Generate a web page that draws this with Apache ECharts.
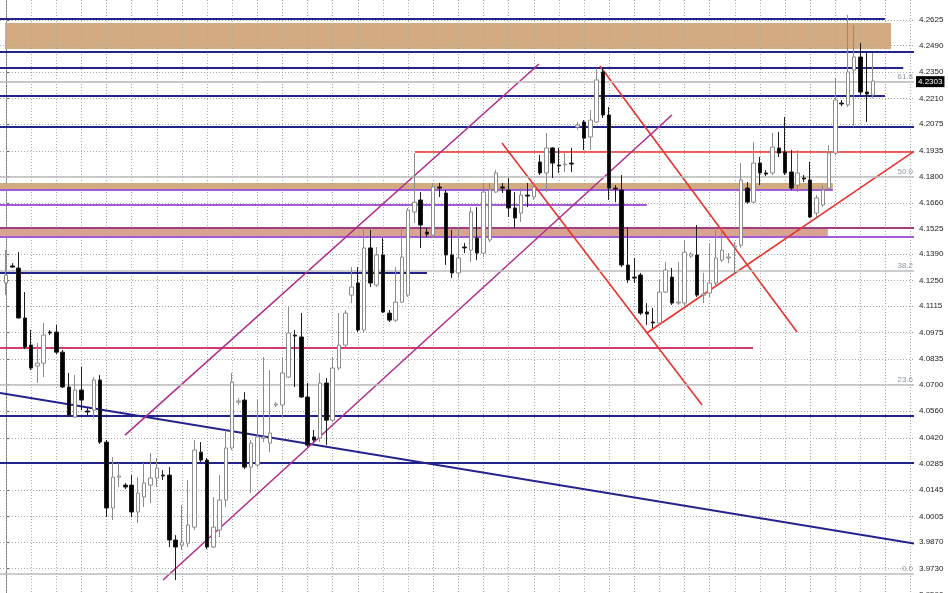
<!DOCTYPE html>
<html><head><meta charset="utf-8">
<script src="https://cdn.jsdelivr.net/npm/echarts@6/dist/echarts.min.js"></script>
<style>html,body{margin:0;padding:0;background:#fff}#c{width:948px;height:593px}</style>
</head><body><div id="c"></div>
<script>
// ---- candle data (index = bar number) ----
const opens = [4.1237,4.1327,4.1316,4.1052,4.0909,4.0799,4.0814,4.0978,4.0978,4.0872,
4.0688,4.0529,4.0672,4.0561,4.0566,4.0725,4.0397,4.0049,4.0212,4.0170,
4.0170,4.0028,4.0107,4.0170,4.0207,4.0223,4.0223,3.9880,3.9853,3.9864,
3.9948,4.0344,4.0302,3.9843,3.9933,4.0091,4.0366,4.0608,4.0619,4.0265,
4.0276,4.0418,4.0392,4.0593,4.0593,4.0740,4.0962,4.0952,4.0635,4.0424,
4.0418,4.0709,4.0513,4.0788,4.0909,4.1173,4.1237,4.0989,4.1422,4.1226,
4.1385,4.1078,4.1041,4.1136,4.1173,4.1612,4.1675,4.1506,4.1490,4.1744,
4.1712,4.1385,4.1290,4.1427,4.1411,4.1474,4.1395,4.1464,4.1717,4.1744,
4.1728,4.1633,4.1606,4.1701,4.1691,4.1876,4.1818,4.1950,4.1860,4.1860,
4.1870,4.2060,4.2087,4.2008,4.2087,4.2351,4.2124,4.1738,4.1728,4.1332,
4.1268,4.1279,4.1084,4.1031,4.1026,4.1189,4.1268,4.1131,4.1131,4.1379,
4.1385,4.1173,4.1184,4.1237,4.1358,4.1369,4.1427,4.1437,4.1738,4.1664,
4.1870,4.1818,4.1818,4.1950,4.1928,4.1823,4.1754,4.1791,4.1781,4.1606,
4.1649,4.1738,4.1923,4.2187,4.2177,4.2361,4.2430,4.2245,4.2229];
const closes = [4.1279,4.1321,4.1052,4.0899,4.0788,4.0814,4.0962,4.0973,4.0872,4.0688,
4.0540,4.0672,4.0619,4.0556,4.0725,4.0397,4.0049,4.0212,4.0218,4.0160,
4.0028,4.0128,4.0181,4.0207,4.0260,4.0218,3.9880,3.9843,3.9869,3.9959,
4.0355,4.0302,3.9843,3.9948,4.0091,4.0366,4.0714,4.0614,4.0265,4.0392,
4.0424,4.0424,4.0445,4.0598,4.0762,4.0973,4.0957,4.0635,4.0381,4.0408,
4.0709,4.0513,4.0788,4.0909,4.1078,4.1216,4.0989,4.1422,4.1237,4.1385,
4.1084,4.1041,4.1136,4.1374,4.1622,4.1664,4.1543,4.1495,4.1744,4.1738,
4.1385,4.1290,4.1369,4.1422,4.1612,4.1395,4.1717,4.1728,4.1818,4.1738,
4.1633,4.1580,4.1701,4.1696,4.1744,4.1818,4.1950,4.1870,4.1855,4.1865,
4.1865,4.2071,4.2002,4.2097,4.2309,4.2124,4.1738,4.1733,4.1332,4.1253,
4.1263,4.1078,4.1073,4.1026,4.1189,4.1305,4.1131,4.1136,4.1400,4.1390,
4.1173,4.1179,4.1237,4.1369,4.1411,4.1374,4.1432,4.1781,4.1664,4.1870,
4.1818,4.1812,4.1955,4.1923,4.1818,4.1738,4.1818,4.1786,4.1585,4.1686,
4.1728,4.1923,4.2203,4.2182,4.2351,4.2430,4.2245,4.2235,4.2303];
const lows = [4.1173,4.1316,4.1052,4.0888,4.0777,4.0709,4.0740,4.0962,4.0862,4.0682,
4.0529,4.0524,4.0566,4.0540,4.0524,4.0387,4.0001,3.9985,4.0160,4.0149,
4.0001,3.9970,4.0054,4.0075,4.0160,4.0197,3.9843,3.9669,3.9827,3.9843,
3.9933,4.0292,3.9832,3.9838,3.9896,4.0054,4.0355,4.0593,4.0255,4.0128,
4.0265,4.0397,4.0344,4.0582,4.0529,4.0735,4.0688,4.0630,4.0371,4.0397,
4.0397,4.0381,4.0503,4.0777,4.0899,4.1131,4.0978,4.0973,4.1216,4.1216,
4.1078,4.1031,4.1031,4.1131,4.1163,4.1554,4.1422,4.1480,4.1474,4.1691,
4.1332,4.1263,4.1263,4.1395,4.1348,4.1358,4.1374,4.1453,4.1712,4.1712,
4.1585,4.1527,4.1559,4.1638,4.1675,4.1807,4.1717,4.1791,4.1818,4.1823,
4.1823,4.2045,4.1939,4.1939,4.2082,4.2108,4.1675,4.1664,4.1321,4.1237,
4.1237,4.1068,4.1015,4.0999,4.1015,4.1184,4.1121,4.1121,4.1110,4.1369,
4.1163,4.1131,4.1163,4.1216,4.1348,4.1342,4.1290,4.1422,4.1654,4.1659,
4.1754,4.1802,4.1807,4.1902,4.1807,4.1728,4.1717,4.1770,4.1580,4.1585,
4.1638,4.1728,4.1913,4.2171,4.2166,4.2060,4.2229,4.2087,4.2214];
const highs = [4.1411,4.1342,4.1400,4.1189,4.0989,4.0920,4.1026,4.0989,4.1015,4.0883,
4.0762,4.0751,4.0793,4.0577,4.0740,4.0751,4.0408,4.0318,4.0286,4.0181,
4.0223,4.0212,4.0286,4.0339,4.0313,4.0249,4.0265,3.9906,4.0065,4.0197,
4.0408,4.0397,4.0313,4.0107,4.0223,4.0461,4.0762,4.0630,4.0661,4.0408,
4.0619,4.0846,4.0777,4.0608,4.0846,4.1110,4.0989,4.1078,4.0709,4.0461,
4.0762,4.0735,4.0846,4.1078,4.1094,4.1321,4.1321,4.1527,4.1517,4.1427,
4.1474,4.1094,4.1321,4.1527,4.1633,4.1923,4.1717,4.1527,4.1765,4.1765,
4.1728,4.1517,4.1527,4.1448,4.1638,4.1638,4.1765,4.1765,4.1833,4.1765,
4.1791,4.1717,4.1738,4.1765,4.1770,4.1913,4.2029,4.1955,4.1950,4.1923,
4.1950,4.2087,4.2097,4.2150,4.2372,4.2372,4.2166,4.1754,4.1807,4.1532,
4.1369,4.1290,4.1131,4.1105,4.1253,4.1348,4.1316,4.1348,4.1464,4.1400,
4.1543,4.1290,4.1448,4.1517,4.1527,4.1395,4.1453,4.1870,4.1770,4.1981,
4.1902,4.1833,4.2029,4.2034,4.2113,4.1939,4.1939,4.1807,4.1876,4.1701,
4.1754,4.1965,4.2319,4.2203,4.2652,4.2599,4.2504,4.2451,4.2451];

// ---- axis ----
const tickLabels = [4.2625,4.2490,4.2350,4.2210,4.2075,4.1935,4.1800,4.1660,4.1525,4.1390,4.1250,
4.1115,4.0975,4.0835,4.0700,4.0560,4.0420,4.0285,4.0145,4.0005,3.9870,3.9730,3.9590];
const currentPrice = 4.2303;
const fibLevels = [4.2319, 4.1818, 4.1316, 4.0690, 3.9679];
const fibNames = ['61.8', '50.0', '38.2', '23.6', '0.0'];
const X_MIN = -0.955, X_MAX = 144.52;
const Y_MIN = 3.9574, Y_MAX = 4.2731;

// ---- drawn objects: horizontal levels [price, fromBar, toBar] ----
const navyLevels = [[4.2630, X_MIN, 139.9],[4.2456, X_MIN, X_MAX],[4.2375, X_MIN, 142.8],[4.2224, X_MIN, 139.9],
  [4.2060, X_MIN, X_MAX],[4.1290, X_MIN, 67.0],[4.0535, X_MIN, X_MAX],[4.0286, X_MIN, X_MAX]];
const pinkLevels = [[4.0894, X_MIN, 118.9]];
const violetLevels = [[4.1649, X_MIN, 102.0],[4.1728, X_MIN, 131.6],[4.1480, X_MIN, X_MAX]];
const plumLevels = [[4.1527, X_MIN, X_MAX]];
// ---- trend lines [[bar, price],[bar, price]] ----
const navyTrends = [[[X_MIN, 4.0656],[X_MAX, 3.9861]]];
const redTrends = [[[65.1, 4.1928],[X_MAX, 4.1928]],[[78.94, 4.1976],[110.78, 4.0593]],
  [[94.54, 4.2383],[125.9, 4.0978]],[[102.0, 4.0973],[X_MAX, 4.1932]]];
const magentaTrends = [[[18.94, 4.0434],[84.83, 4.2393]],[[24.99, 3.9669],[105.99, 4.2124]]];
// ---- zones [fromBar, topPrice, toBar, bottomPrice] ----
const tanZones = [[-0.16, 4.2610, 140.86, 4.2472],[X_MIN, 4.1765, 131.6, 4.1733]];
const salmonZones = [[X_MIN, 4.1524, 130.8, 4.1483]];

const candleData = opens.map((o, k) => [k, o, closes[k], lows[k], highs[k]]);

const C = {navy:'#23238c', red:'#e8332d', magenta:'#b02a8c', pink:'#d63c6c', violet:'#a25ad6', plum:'#a2407f',
  tan:'#d3ab80', salmon:'#d9a391', fib:'#bdbdbd', grid:'#a9a9a9'};

function levelLines(arr, color, width){
  return arr.map(a => ({coords:[[a[1], a[0]],[a[2], a[0]]], lineStyle:{color, width}}));
}
function trendLines(arr, color, width){
  return arr.map(a => ({coords:[a[0], a[1]], lineStyle:{color, width}}));
}
const annot = [].concat(
  levelLines(navyLevels, C.navy, 2),
  levelLines(pinkLevels, C.pink, 2),
  levelLines(violetLevels, C.violet, 2),
  levelLines(plumLevels, C.plum, 2),
  trendLines(navyTrends, C.navy, 2),
  trendLines(redTrends, C.red, 1.6),
  trendLines(magentaTrends, C.magenta, 1.5)
);

const gridLines = [];
tickLabels.forEach(v => gridLines.push({coords:[[X_MIN, v],[X_MAX, v]]}));
for (let g = 0; g <= 144; g += 4) gridLines.push({coords:[[g, Y_MIN],[g, Y_MAX]]});

const zones = [].concat(
  tanZones.map(z => [{coord:[z[0], z[1]], itemStyle:{color:C.tan}}, {coord:[z[2], z[3]]}]),
  salmonZones.map(z => [{coord:[z[0], z[1]], itemStyle:{color:C.salmon}}, {coord:[z[2], z[3]]}])
);

const chart = echarts.init(document.getElementById('c'), null, {renderer:'canvas'});
chart.setOption({
  animation:false,
  backgroundColor:'#ffffff',
  grid:{left:0, right:34, top:0, bottom:-5, outerBoundsMode:'none'},
  xAxis:{type:'value', min:X_MIN, max:X_MAX, show:false, splitLine:{show:false}},
  yAxis:{type:'value', position:'right', min:Y_MIN, max:Y_MAX, scale:true,
    splitLine:{show:false},
    axisLine:{show:true, lineStyle:{color:'#808080', width:1}},
    axisTick:{show:true, length:3, customValues:tickLabels, lineStyle:{color:'#666'}},
    axisLabel:{customValues:tickLabels, formatter:v => v.toFixed(4), fontSize:8, color:'#222',
      margin:5, fontFamily:'Liberation Sans', showMinLabel:true, showMaxLabel:true}},
  series:[
    {type:'line', data:[], silent:true, z:1,
      markArea:{silent:true, data:zones}},
    {type:'lines', coordinateSystem:'cartesian2d', silent:true, z:2, data:gridLines,
      lineStyle:{color:C.grid, width:1, type:[1,2], opacity:1}},
    {type:'line', data:[], silent:true, z:2,
      markLine:{silent:true, symbol:'none', animation:false,
        lineStyle:{color:C.fib, type:'solid', width:1.5},
        label:{position:'insideEndTop', color:'#8a9aa2', fontSize:8, distance:1, formatter:p => p.name},
        data:fibLevels.map((v, k) => ({yAxis:v, name:fibNames[k]}))}},
    {type:'lines', coordinateSystem:'cartesian2d', silent:true, z:3, data:annot,
      lineStyle:{opacity:1}},
    {type:'candlestick', data:candleData, barWidth:4, z:5, silent:true,
      itemStyle:{color:'#ffffff', color0:'#000000', borderColor:'#8c8c8c', borderColor0:'#1e1e1e',
        borderColorDoji:'#555555', borderWidth:1},
      markLine:{silent:true, symbol:'none', animation:false,
        lineStyle:{color:'#c4c4c4', type:'solid', width:1},
        label:{position:'end', distance:2, backgroundColor:'#000', color:'#fff', fontSize:8,
          padding:[2,2,1,2], formatter:() => currentPrice.toFixed(4)},
        data:[{yAxis:currentPrice}]}}
  ]
});
</script></body></html>
